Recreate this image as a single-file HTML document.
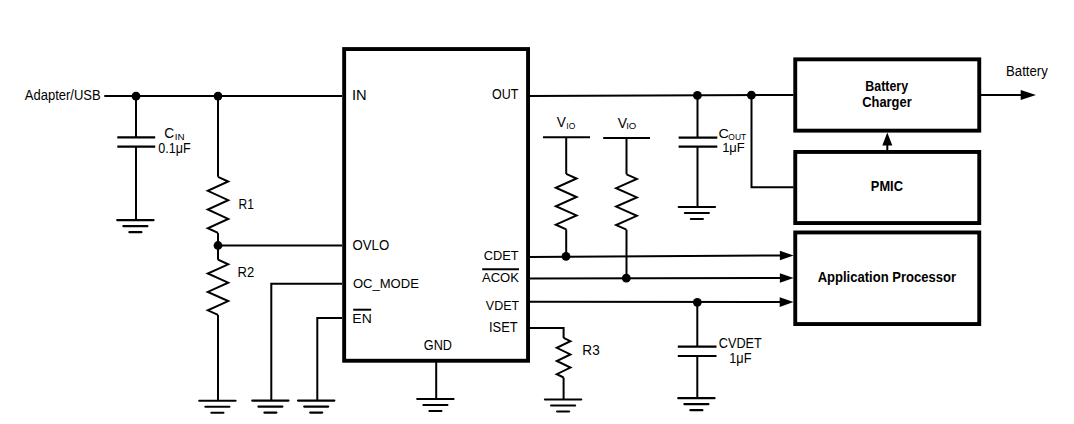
<!DOCTYPE html>
<html><head><meta charset="utf-8"><title>Schematic</title>
<style>
html,body{margin:0;padding:0;background:#fff;width:1074px;height:424px;overflow:hidden}
svg{display:block}
text{font-family:"Liberation Sans",sans-serif;fill:#000}
</style></head>
<body>
<svg width="1074" height="424" viewBox="0 0 1074 424">
<rect width="1074" height="424" fill="#fff"/>
<path d="M104.3 96.1H342" fill="none" stroke="#000" stroke-width="2.0"/>
<circle cx="136" cy="96.2" r="4.4" fill="#000"/>
<circle cx="218" cy="96.1" r="4.4" fill="#000"/>
<path d="M136 96V137.3M136 146.6V220.5" fill="none" stroke="#000" stroke-width="2.0"/>
<path d="M117.3 137.3H155.2M117.3 146.6H155.2" stroke="#000" stroke-width="2.2" fill="none"/>
<path d="M117.25 220.2H153.55M123.40 226.20H147.40M129.40 232.20H141.40" stroke="#000" stroke-width="2.2" stroke-linecap="round" fill="none"/>
<path d="M218 96V176.8" fill="none" stroke="#000" stroke-width="2.0"/>
<path d="M218.00 176.80 L228.20 181.48 L207.80 190.83 L228.20 200.18 L207.80 209.53 L228.20 218.88 L207.80 228.22 L218.00 232.90" fill="none" stroke="#000" stroke-width="2.0" stroke-linejoin="miter"/>
<path d="M218 232.9V259.7" fill="none" stroke="#000" stroke-width="2.0"/>
<circle cx="218" cy="245.5" r="4.4" fill="#000"/>
<path d="M218 245.5H342" fill="none" stroke="#000" stroke-width="2.0"/>
<path d="M218.00 259.70 L228.20 264.30 L207.80 273.50 L228.20 282.70 L207.80 291.90 L228.20 301.10 L207.80 310.30 L218.00 314.90" fill="none" stroke="#000" stroke-width="2.0" stroke-linejoin="miter"/>
<path d="M218 314.9V400.8" fill="none" stroke="#000" stroke-width="2.0"/>
<path d="M199.25 400.75H235.55M205.40 406.75H229.40M211.40 412.75H223.40" stroke="#000" stroke-width="2.2" stroke-linecap="round" fill="none"/>
<path d="M342 283.7H271.3V400.6" fill="none" stroke="#000" stroke-width="2.0"/>
<path d="M252.25 400.6H288.55M258.40 406.60H282.40M264.40 412.60H276.40" stroke="#000" stroke-width="2.2" stroke-linecap="round" fill="none"/>
<path d="M342 318.1H317.3V400.6" fill="none" stroke="#000" stroke-width="2.0"/>
<path d="M298.05 400.6H334.35M304.20 406.60H328.20M310.20 412.60H322.20" stroke="#000" stroke-width="2.2" stroke-linecap="round" fill="none"/>
<path d="M436.2 361V399" fill="none" stroke="#000" stroke-width="2.0"/>
<path d="M417.25 399H453.55M423.40 405.00H447.40M429.40 411.00H441.40" stroke="#000" stroke-width="2.2" stroke-linecap="round" fill="none"/>
<rect x="344.15" y="49.05" width="183.9" height="311.7" fill="none" stroke="#000" stroke-width="3.9"/>
<path d="M530 96.1L793.5 94.9" fill="none" stroke="#000" stroke-width="2.0"/>
<circle cx="697.4" cy="95.4" r="4.4" fill="#000"/>
<circle cx="751.4" cy="95.2" r="4.4" fill="#000"/>
<path d="M697.5 95V137.6M697.5 146.6V207.5" fill="none" stroke="#000" stroke-width="2.0"/>
<path d="M678.6 137.6H717.3M678.6 146.6H717.3" stroke="#000" stroke-width="2.2" fill="none"/>
<path d="M678.75 207H715.05M684.90 213.00H708.90M690.90 219.00H702.90" stroke="#000" stroke-width="2.2" stroke-linecap="round" fill="none"/>
<path d="M751.5 95V187.3H793.5" fill="none" stroke="#000" stroke-width="2.0"/>
<path d="M543 137.2H590" fill="none" stroke="#000" stroke-width="2.0"/>
<path d="M566.2 137.2V173.9" fill="none" stroke="#000" stroke-width="2.0"/>
<path d="M566.20 173.90 L576.55 178.52 L555.85 187.75 L576.55 196.98 L555.85 206.22 L576.55 215.45 L555.85 224.68 L566.20 229.30" fill="none" stroke="#000" stroke-width="2.0" stroke-linejoin="miter"/>
<path d="M566.2 229.3V256.4" fill="none" stroke="#000" stroke-width="2.0"/>
<path d="M603.2 137.9H650" fill="none" stroke="#000" stroke-width="2.0"/>
<path d="M626.5 137.9V174.3" fill="none" stroke="#000" stroke-width="2.0"/>
<path d="M626.50 174.30 L636.85 178.92 L616.15 188.15 L636.85 197.38 L616.15 206.62 L636.85 215.85 L616.15 225.08 L626.50 229.70" fill="none" stroke="#000" stroke-width="2.0" stroke-linejoin="miter"/>
<path d="M626.5 229.7V278.2" fill="none" stroke="#000" stroke-width="2.0"/>
<path d="M530 257.1L781 255.5" fill="none" stroke="#000" stroke-width="2.0"/>
<path d="M779.9 250.7L793.6 255.5L779.9 260.3Z" fill="#000"/>
<circle cx="566" cy="256.4" r="4.4" fill="#000"/>
<path d="M530 278.4L781 278" fill="none" stroke="#000" stroke-width="2.0"/>
<path d="M779.9 273.2L793.6 278L779.9 282.8Z" fill="#000"/>
<circle cx="626.3" cy="278.2" r="4.4" fill="#000"/>
<path d="M530 301.8L781 302.1" fill="none" stroke="#000" stroke-width="2.0"/>
<path d="M779.7 297.3L793.5 302.1L779.7 306.90000000000003Z" fill="#000"/>
<circle cx="697.3" cy="302.3" r="4.4" fill="#000"/>
<path d="M530 328H563.6V337.9" fill="none" stroke="#000" stroke-width="2.0"/>
<path d="M563.60 337.90 L570.40 341.20 L556.80 347.80 L570.40 354.40 L556.80 361.00 L570.40 367.60 L556.80 374.20 L563.60 377.50" fill="none" stroke="#000" stroke-width="2.0" stroke-linejoin="miter"/>
<path d="M563.6 377.5V399.5" fill="none" stroke="#000" stroke-width="2.0"/>
<path d="M544.95 399.5H581.25M551.10 405.50H575.10M557.10 411.50H569.10" stroke="#000" stroke-width="2.2" stroke-linecap="round" fill="none"/>
<path d="M697.3 302.3V346.6M697.3 356V398.5" fill="none" stroke="#000" stroke-width="2.0"/>
<path d="M677.8 346.6H716.5M677.8 356H716.5" stroke="#000" stroke-width="2.2" fill="none"/>
<path d="M678.25 398.2H714.55M684.40 404.20H708.40M690.40 410.20H702.40" stroke="#000" stroke-width="2.2" stroke-linecap="round" fill="none"/>
<rect x="795.25" y="59.35" width="184" height="71.3" fill="none" stroke="#000" stroke-width="3.9"/>
<rect x="795.25" y="151.95" width="184" height="71.1" fill="none" stroke="#000" stroke-width="3.9"/>
<rect x="795.25" y="232.45" width="184" height="91.6" fill="none" stroke="#000" stroke-width="3.9"/>
<path d="M887.3 150V145" fill="none" stroke="#000" stroke-width="2.0"/>
<path d="M882.3 145.6L887.3 132.4L892.3 145.6Z" fill="#000"/>
<path d="M981 95H1021.5" fill="none" stroke="#000" stroke-width="2.0"/>
<path d="M1020.7 90L1036 95L1020.7 100Z" fill="#000"/>
<text transform="translate(24.76,100.00) scale(1,1.070)" font-size="13.33" textLength="75.92" lengthAdjust="spacingAndGlyphs">Adapter/USB</text>
<text transform="translate(164.37,138.00) scale(1,1.070)" font-size="13.33" textLength="9.94" lengthAdjust="spacingAndGlyphs">C</text>
<text transform="translate(174.68,140.00) scale(1,1.090)" font-size="9" textLength="9.80" lengthAdjust="spacingAndGlyphs">IN</text>
<text transform="translate(158.19,153.00) scale(1,1.070)" font-size="13.33" textLength="32.37" lengthAdjust="spacingAndGlyphs">0.1μF</text>
<text transform="translate(238.51,209.00) scale(1,1.070)" font-size="13.33" textLength="15.31" lengthAdjust="spacingAndGlyphs">R1</text>
<text transform="translate(237.61,277.00) scale(1,1.070)" font-size="13.33" textLength="16.64" lengthAdjust="spacingAndGlyphs">R2</text>
<text transform="translate(351.98,100.00) scale(1,1.070)" font-size="13.33" textLength="14.70" lengthAdjust="spacingAndGlyphs">IN</text>
<text transform="translate(491.95,99.00) scale(1,1.070)" font-size="13.33" textLength="26.37" lengthAdjust="spacingAndGlyphs">OUT</text>
<text transform="translate(352.54,250.00) scale(1,1.070)" font-size="13.33" textLength="36.68" lengthAdjust="spacingAndGlyphs">OVLO</text>
<text transform="translate(352.89,288.00) scale(1,1.000)" font-size="13.33" textLength="65.94" lengthAdjust="spacingAndGlyphs">OC_MODE</text>
<text transform="translate(352.37,323.00) scale(1,1.000)" font-size="13.33" textLength="19.38" lengthAdjust="spacingAndGlyphs">EN</text>
<text transform="translate(423.79,350.00) scale(1,1.070)" font-size="13.33" textLength="28.12" lengthAdjust="spacingAndGlyphs">GND</text>
<text transform="translate(483.68,260.00) scale(1,1.000)" font-size="13.33" textLength="34.85" lengthAdjust="spacingAndGlyphs">CDET</text>
<text transform="translate(481.94,282.00) scale(1,1.000)" font-size="13.33" textLength="37.00" lengthAdjust="spacingAndGlyphs">ACOK</text>
<text transform="translate(485.87,310.00) scale(1,1.000)" font-size="13.33" textLength="33.15" lengthAdjust="spacingAndGlyphs">VDET</text>
<text transform="translate(489.03,332.00) scale(1,1.070)" font-size="13.33" textLength="28.73" lengthAdjust="spacingAndGlyphs">ISET</text>
<text transform="translate(556.84,127.00) scale(1,1.070)" font-size="13.33" textLength="9.18" lengthAdjust="spacingAndGlyphs">V</text>
<text transform="translate(566.31,129.00) scale(1,1.090)" font-size="9" textLength="8.98" lengthAdjust="spacingAndGlyphs">IO</text>
<text transform="translate(617.71,128.00) scale(1,1.070)" font-size="13.33" textLength="9.31" lengthAdjust="spacingAndGlyphs">V</text>
<text transform="translate(626.19,129.00) scale(1,1.090)" font-size="9" textLength="10.13" lengthAdjust="spacingAndGlyphs">IO</text>
<text transform="translate(718.53,138.00) scale(1,1.000)" font-size="13.33" textLength="10.41" lengthAdjust="spacingAndGlyphs">C</text>
<text transform="translate(728.32,140.00) scale(1,1.090)" font-size="9" textLength="17.81" lengthAdjust="spacingAndGlyphs">OUT</text>
<text transform="translate(722.13,152.00) scale(1,1.000)" font-size="13.33" textLength="22.63" lengthAdjust="spacingAndGlyphs">1μF</text>
<text transform="translate(582.36,355.00) scale(1,1.070)" font-size="13.33" textLength="17.36" lengthAdjust="spacingAndGlyphs">R3</text>
<text transform="translate(718.78,348.00) scale(1,1.070)" font-size="13.33" textLength="43.04" lengthAdjust="spacingAndGlyphs">CVDET</text>
<text transform="translate(729.19,363.00) scale(1,1.070)" font-size="13.33" textLength="22.24" lengthAdjust="spacingAndGlyphs">1μF</text>
<text transform="translate(865.28,91.00) scale(1,1.070)" font-size="13.33" font-weight="bold" textLength="42.77" lengthAdjust="spacingAndGlyphs">Battery</text>
<text transform="translate(862.20,107.00) scale(1,1.070)" font-size="13.33" font-weight="bold" textLength="49.48" lengthAdjust="spacingAndGlyphs">Charger</text>
<text transform="translate(870.85,191.00) scale(1,1.070)" font-size="13.33" font-weight="bold" textLength="32.07" lengthAdjust="spacingAndGlyphs">PMIC</text>
<text transform="translate(817.64,282.00) scale(1,1.070)" font-size="13.33" font-weight="bold" textLength="138.40" lengthAdjust="spacingAndGlyphs">Application Processor</text>
<text transform="translate(1006.01,76.00) scale(1,1.070)" font-size="13.33" textLength="41.78" lengthAdjust="spacingAndGlyphs">Battery</text>
<path d="M353.2 309.7H371.2" fill="none" stroke="#000" stroke-width="2.0"/>
<path d="M482.2 269.2H519" fill="none" stroke="#000" stroke-width="2.0"/>
</svg>
</body></html>
